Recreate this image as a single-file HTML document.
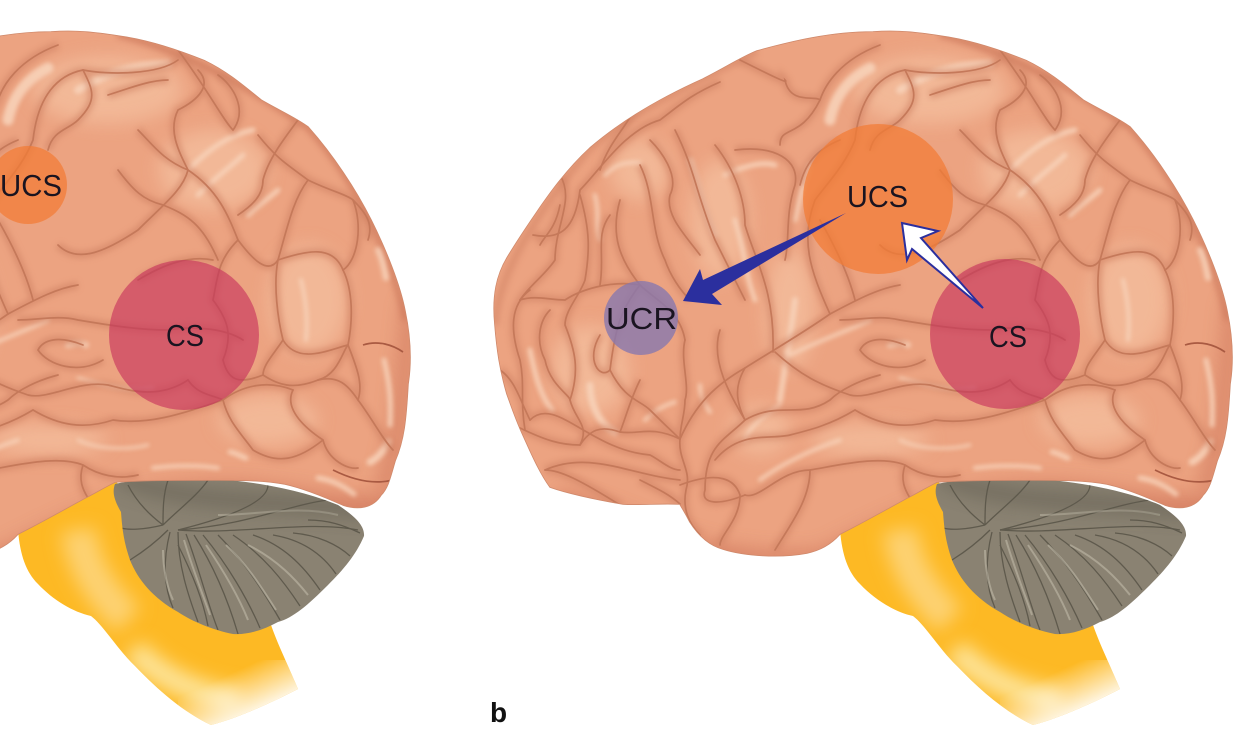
<!DOCTYPE html>
<html><head><meta charset="utf-8"><style>
html,body{margin:0;padding:0;background:#fff;width:1249px;height:739px;overflow:hidden}
svg{display:block}
text{font-family:"Liberation Sans",sans-serif;fill:#1a1420}
</style></head><body>
<svg width="1249" height="739" viewBox="0 0 1249 739" xmlns="http://www.w3.org/2000/svg">
<defs>
<filter id="b2" filterUnits="userSpaceOnUse" x="400" y="0" width="900" height="760"><feGaussianBlur stdDeviation="2"/></filter>
<filter id="b3" filterUnits="userSpaceOnUse" x="400" y="0" width="900" height="760"><feGaussianBlur stdDeviation="3"/></filter>
<filter id="b8" filterUnits="userSpaceOnUse" x="400" y="0" width="900" height="760"><feGaussianBlur stdDeviation="9"/></filter>
<linearGradient id="yf" gradientUnits="userSpaceOnUse" x1="1060" y1="670" x2="1085" y2="725"><stop offset="0" stop-color="#fff" stop-opacity="0"/><stop offset=".75" stop-color="#fff" stop-opacity=".9"/><stop offset="1" stop-color="#fff"/></linearGradient>
<clipPath id="cb"><path id="cbp" d="M495 325 C492 295 497 275 507 258 C516 243 526 228 537 212 C548 196 566 170 590 148 C625 118 665 96 703 79 C725 68 740 58 757 51 C790 42 830 32 873 32 C900 30 920 33 940 36 C970 40 1000 50 1027 61 C1050 72 1068 88 1083 100 C1100 110 1118 118 1130 127 C1155 155 1178 190 1193 220 C1208 250 1222 285 1227 311 C1233 340 1233 365 1230 384 C1228 420 1226 440 1217 461 C1212 478 1210 488 1203 495 C1195 508 1180 510 1165 505 C1145 496 1125 488 1107 484 C1085 480 1060 480 1040 480 C1000 480 965 480 937 482 C925 488 915 494 907 498 C885 510 860 524 840 534 C830 545 820 550 807 553 C780 558 745 556 723 549 C708 545 697 533 690 522 C685 512 682 508 680 504 C660 503 640 505 623 504 C600 500 570 494 550 487 C538 470 530 450 523 435 C516 420 511 405 507 394 C500 370 497 350 495 325 Z"/></clipPath>
<clipPath id="cc"><path id="ccp" d="M937 484 C1000 470 1100 480 1160 505 C1175 515 1187 525 1186 536 C1178 555 1165 570 1150 585 C1130 605 1115 618 1100 622 C1085 630 1070 635 1055 634 C1035 630 1015 622 1000 612 C975 598 960 580 952 560 C945 540 944 525 943 512 C936 500 934 492 937 484 Z"/></clipPath>
<clipPath id="cy"><path d="M937 480 L840 530 C842 555 848 572 860 584 C875 600 895 612 913 616 C925 625 940 650 957 666 C980 690 1005 712 1033 725 C1060 718 1095 702 1120 689 C1110 665 1100 645 1093 625 L1000 560 Z"/></clipPath>

<g id="sulci">
  <path d="M680 439 C695 405 715 385 745 368 C770 352 800 335 830 314 C860 298 880 288 900 285"/>
  <path d="M680 439 C678 460 692 470 686 490 C682 510 690 525 700 535"/>
  <path d="M680 439 C650 425 640 435 620 432 C600 425 590 430 580 445 C560 445 545 440 520 428"/>
  <path d="M520 300 C535 295 550 300 565 300 C580 290 610 280 640 285"/>
  <path d="M533 235 C560 240 575 230 580 190 C600 170 625 130 660 120 C680 105 690 95 720 82"/>
  <path d="M580 195 C590 230 590 250 585 280 C580 295 565 310 565 325 C575 350 580 370 570 400 C575 420 590 425 580 445"/>
  <path d="M620 200 C610 235 620 260 640 285 C655 300 680 310 685 340"/>
  <path d="M640 165 C655 195 650 230 665 260 C670 275 680 290 690 300"/>
  <path d="M675 130 C695 170 695 190 715 240 C725 260 735 280 745 300"/>
  <path d="M715 145 C735 170 745 200 745 225 C755 260 775 290 773 352"/>
  <path d="M735 150 C775 145 800 160 795 185 C785 215 790 240 785 260"/>
  <path d="M740 60 C770 75 790 85 785 80 C790 105 815 95 820 100 C800 140 780 125 780 145"/>
  <path d="M820 100 C825 85 840 60 880 45"/>
  <path d="M905 70 C880 75 860 95 855 140 C845 165 830 180 815 200 C800 240 810 270 830 314"/>
  <path d="M905 70 C930 75 980 75 1000 60"/>
  <path d="M905 70 C915 90 920 100 900 120 C890 130 875 130 870 150"/>
  <path d="M560 205 C555 230 545 235 540 245"/>
  <path d="M640 285 C620 310 615 330 610 370 C625 400 640 400 650 410 C660 420 665 425 680 439"/>
  <path d="M685 340 C680 360 690 385 685 400 C685 415 680 425 680 439"/>
  <path d="M530 290 C510 305 510 330 520 360 C525 385 520 400 525 430"/>
  <path d="M550 310 C540 320 535 340 545 360 C550 385 570 395 570 400"/>
  <path d="M530 420 C555 395 590 450 650 455 C660 460 670 470 680 470"/>
  <path d="M545 470 C590 450 630 475 680 480"/>
  <path d="M745 368 C735 385 735 400 745 420 C725 440 705 445 705 490 C700 505 720 505 745 495"/>
  <path d="M775 352 C800 375 820 385 850 395 C870 400 900 380 930 385 C950 390 980 400 1010 380"/>
  <path d="M745 420 C780 400 800 420 830 400 C840 390 860 380 880 375"/>
  <path d="M745 495 C760 500 780 470 810 470 C840 465 880 455 905 465 C920 475 940 480 960 475"/>
  <path d="M810 470 C810 500 790 525 775 550"/>
  <path d="M905 465 C900 480 905 490 910 498"/>
  <path d="M855 410 C880 425 905 430 935 420 C970 425 1000 415 1045 400 C1065 385 1090 380 1115 390"/>
  <path d="M840 320 C860 320 880 315 900 320 C930 325 960 330 990 330 C1020 325 1050 330 1065 340"/>
  <path d="M880 245 C900 265 930 250 960 230 C985 205 1005 190 1010 170 C1000 150 990 130 1000 110 C1020 100 1035 85 1020 70"/>
  <path d="M1010 170 C1040 190 1050 215 1060 240 C1075 260 1090 275 1100 260 C1110 225 1115 200 1130 180"/>
  <path d="M1060 240 C1040 260 1040 275 1035 300 C1050 320 1055 335 1045 360 C1050 380 1060 385 1085 375"/>
  <path d="M1100 260 C1095 285 1100 320 1105 340 C1120 365 1150 350 1170 345 C1175 320 1175 290 1165 270 C1155 245 1130 250 1100 260"/>
  <path d="M1165 270 C1180 260 1185 225 1175 200"/>
  <path d="M1130 180 C1150 190 1170 195 1175 200 C1190 215 1195 225 1190 240"/>
  <path d="M1105 340 C1095 355 1085 365 1085 375 C1100 385 1115 390 1140 380 C1160 375 1165 350 1170 345"/>
  <path d="M1170 345 C1180 370 1185 385 1180 400 C1170 385 1160 375 1140 380"/>
  <path d="M1180 400 C1195 420 1205 440 1215 450"/>
  <path d="M1115 390 C1105 410 1130 430 1145 440 C1150 460 1170 470 1180 468 M1145 440 C1120 460 1100 465 1075 450 C1060 430 1050 420 1045 400"/>
  <path d="M1000 50 C1030 90 1045 120 1055 130 C1070 110 1055 85 1040 75"/>
  <path d="M1080 135 C1100 160 1110 165 1130 180"/>
  <path d="M930 95 C960 85 975 80 990 80"/>
  <path d="M985 205 C1010 215 1025 225 1040 260"/>
  <path d="M640 480 C660 490 670 495 680 504"/>
  <path d="M680 485 C720 470 735 480 740 495 C740 520 720 535 720 545"/>
  <path d="M620 505 C580 480 560 470 545 470"/>
  <path d="M640 100 C625 130 610 140 600 170"/>
  <path d="M500 370 C515 380 520 400 530 420"/>
  <path d="M560 175 C575 200 555 225 555 260 C545 275 530 285 520 300"/>
  <path d="M610 215 C595 235 605 255 600 285"/>
  <path d="M700 255 C685 235 665 215 670 195 C680 175 660 150 650 140"/>
  <path d="M720 330 C710 360 730 395 745 420"/>
  <path d="M820 220 C840 255 850 280 855 300"/>
  <path d="M600 335 C585 360 600 380 610 370"/>
  <path d="M640 380 C630 400 625 420 620 432"/>
  <path d="M715 460 C740 430 770 440 790 435 C810 430 830 425 855 410"/>
  <path d="M960 280 C985 265 1010 255 1035 260"/>
  <path d="M905 345 C880 335 865 340 860 350 C870 365 900 375 925 360"/>
  <path d="M1010 380 C1020 395 1035 395 1045 400"/>
  <path d="M840 140 C815 150 805 165 800 185"/>
  <path d="M1120 120 C1105 140 1090 160 1085 180 C1085 195 1075 205 1060 215"/>
  <path d="M960 130 C975 145 985 160 1010 170"/>
  <path d="M940 170 C955 190 965 200 985 205"/>
</g>

<g id="brain">
  <g clip-path="url(#cy)">
    <rect x="820" y="470" width="320" height="270" fill="#fdb924"/>
    <path d="M900 530 C905 565 920 590 950 620" stroke="#fdd272" stroke-width="34" fill="none" filter="url(#b8)"/>
    <path d="M955 650 C985 680 1020 695 1060 700" stroke="#fde49a" stroke-width="24" fill="none" filter="url(#b8)"/>
    <rect x="1000" y="660" width="130" height="80" fill="url(#yf)"/>
  </g>
  <g clip-path="url(#cc)">
    <rect x="920" y="470" width="280" height="175" fill="#8a8272"/>
    <g fill="none" stroke="#5f5a4d" stroke-width="1.3">
      <path d="M1000 530 C1060 535 1130 520 1180 530"/><path d="M1000 530 C1070 525 1110 505 1150 500"/><path d="M1000 530 C1060 515 1090 500 1090 485"/>
      <path d="M985 525 C1000 510 1020 495 1030 480"/><path d="M985 525 C985 510 985 495 990 480"/><path d="M985 525 C965 510 955 495 950 485"/>
      <path d="M985 525 C965 530 950 530 943 528"/><path d="M990 530 C975 545 960 555 952 560"/><path d="M992 532 C985 560 985 585 995 608"/>
      <path d="M1000 532 C1000 565 1010 595 1020 622"/><path d="M1008 534 C1020 565 1030 605 1040 630"/><path d="M1016 535 C1035 565 1050 600 1060 634"/>
      <path d="M1025 535 C1050 565 1070 600 1082 628"/><path d="M1040 535 C1065 560 1085 590 1102 620"/><path d="M1055 535 C1085 555 1105 580 1122 606"/>
      <path d="M1075 535 C1105 545 1125 565 1142 590"/><path d="M1095 535 C1125 540 1145 555 1158 574"/><path d="M1115 533 C1140 535 1160 545 1172 556"/>
      <path d="M1000 545 C1015 575 1025 600 1030 626"/><path d="M1130 520 C1150 520 1165 525 1182 533"/>
    </g>
    <g fill="none" stroke="#c0baa8" stroke-width="2" opacity=".6">
      <path d="M1006 540 C1015 570 1025 595 1032 615"/><path d="M1028 545 C1045 570 1060 595 1070 620"/><path d="M1048 545 C1070 565 1085 590 1098 610"/>
      <path d="M1070 545 C1100 560 1118 580 1130 595"/><path d="M1040 515 C1080 515 1120 505 1160 515"/><path d="M985 550 C985 570 990 590 995 600"/>
    </g>
    <path d="M940 475 C1000 505 1100 500 1190 510" stroke="#5f5a4d" stroke-width="16" fill="none" filter="url(#b8)" opacity=".55"/>
  </g>
  <use href="#cbp" fill="#d08a6c" stroke="#d08a6c" stroke-width="1.5"/>
  <g clip-path="url(#cb)">
    <use href="#cbp" fill="#eca381"/>
    <path d="M560 490 C640 510 700 560 820 550 C900 510 950 480 1060 482 C1130 485 1170 505 1230 490 L1240 560 L540 570Z" fill="#d47e62" filter="url(#b8)" opacity=".85"/>
    <path d="M1234 300 C1225 380 1225 440 1205 490" stroke="#d37d60" stroke-width="16" fill="none" filter="url(#b8)" opacity=".8"/>
    <path d="M940 34 C1020 55 1090 100 1130 127 C1180 180 1215 260 1228 320" stroke="#cf7c5e" stroke-width="8" fill="none" filter="url(#b3)" opacity=".7"/>
    <path d="M495 325 C497 275 537 212 590 148 C625 118 665 96 757 51" stroke="#d98c6d" stroke-width="8" fill="none" filter="url(#b3)" opacity=".7"/>
    <g fill="#f4bf9f" filter="url(#b8)" opacity=".75">
      <ellipse cx="930" cy="90" rx="75" ry="34"/><ellipse cx="1035" cy="170" rx="55" ry="40"/><ellipse cx="1130" cy="300" rx="40" ry="55"/>
      <ellipse cx="1090" cy="420" rx="50" ry="25"/><ellipse cx="720" cy="220" rx="30" ry="60"/><ellipse cx="590" cy="370" rx="40" ry="45"/><ellipse cx="790" cy="310" rx="25" ry="60"/>
      <ellipse cx="640" cy="170" rx="30" ry="30"/><ellipse cx="870" cy="440" rx="60" ry="15"/><ellipse cx="760" cy="430" rx="30" ry="25"/>
    </g>
    <g fill="none" stroke="#f8d4bb" stroke-linecap="round" filter="url(#b2)" stroke-width="5" opacity=".85">
      <path d="M830 120 C835 95 850 78 870 68" stroke-width="11"/>
      <path d="M900 90 C925 75 950 65 990 64" stroke-width="8"/>
      <path d="M1010 170 C1030 150 1050 135 1075 130"/>
      <path d="M1020 195 C1040 175 1055 165 1065 155"/>
      <path d="M1070 215 C1080 205 1095 195 1100 190"/>
      <path d="M1123 280 C1128 300 1130 320 1128 340" stroke-width="4"/>
      <path d="M1200 250 C1204 258 1206 268 1208 278" stroke-width="6"/>
      <path d="M1206 360 C1212 385 1213 400 1212 425" stroke-width="5"/>
      <path d="M1192 462 C1200 458 1206 450 1210 442" stroke-width="7"/>
      <path d="M975 468 C1000 465 1020 465 1040 468" stroke-width="4"/>
      <path d="M1140 478 C1155 480 1165 486 1176 494" stroke-width="5"/>
      <path d="M1052 452 C1056 452 1062 456 1068 458" stroke-width="5"/>
      <path d="M900 378 C925 385 950 392 975 388" stroke-width="3"/>
      <path d="M890 345 C895 343 905 343 908 345" stroke-width="6"/>
      <path d="M690 160 C700 190 705 215 715 235" stroke-width="6"/>
      <path d="M725 175 C735 170 760 160 775 165" stroke-width="5"/>
      <path d="M735 220 C745 250 745 275 755 300" stroke-width="5"/>
      <path d="M795 300 C790 340 785 365 780 400" stroke-width="6"/>
      <path d="M810 165 C800 190 800 200 795 220" stroke-width="5"/>
      <path d="M590 385 C590 405 600 425 615 432" stroke-width="7"/>
      <path d="M530 350 C535 375 540 395 552 410" stroke-width="5"/>
      <path d="M640 163 C620 160 610 170 605 175" stroke-width="4"/>
      <path d="M595 195 C600 215 595 225 600 240" stroke-width="4"/>
      <path d="M645 420 C655 410 665 405 675 402" stroke-width="4"/>
      <path d="M700 385 C700 395 705 405 710 412" stroke-width="4"/>
      <path d="M745 440 C750 425 765 415 780 405" stroke-width="4"/>
      <path d="M790 355 C820 340 850 330 870 320" stroke-width="4"/>
      <path d="M760 480 C780 465 810 450 840 440" stroke-width="4"/>
      <path d="M900 440 C920 450 950 450 970 445" stroke-width="3"/>
    </g>
    <use href="#sulci" fill="none" stroke="#cf8163" stroke-width="8" filter="url(#b3)" opacity=".55"/>
    <use href="#sulci" fill="none" stroke="#c5795a" stroke-width="1.7" stroke-linecap="round"/>
    <path d="M1185 345 C1200 340 1215 345 1225 352 M1155 470 C1175 480 1195 485 1215 480" fill="none" stroke="#a95a42" stroke-width="1.7"/>
  </g>
</g>
</defs>

<use href="#brain"/>
<use href="#brain" transform="translate(-822,0)"/>

<circle cx="28" cy="185" r="39" fill="#f27c34" opacity=".72"/>
<circle cx="184" cy="335" r="75" fill="#c6305c" opacity=".62"/>
<text x="0" y="196" font-size="31" textLength="62" lengthAdjust="spacingAndGlyphs">UCS</text>
<text x="166" y="346" font-size="31" textLength="38" lengthAdjust="spacingAndGlyphs">CS</text>

<circle cx="878" cy="199" r="75" fill="#f27c34" opacity=".72"/>
<circle cx="1005" cy="334" r="75" fill="#c6305c" opacity=".62"/>
<circle cx="641" cy="318" r="37" fill="#8878ae" opacity=".8"/>
<text x="847" y="207" font-size="31" textLength="61" lengthAdjust="spacingAndGlyphs">UCS</text>
<text x="989" y="347" font-size="31" textLength="38" lengthAdjust="spacingAndGlyphs">CS</text>
<text x="606" y="329" font-size="31" textLength="71" lengthAdjust="spacingAndGlyphs">UCR</text>

<path d="M683 301 L700 269 L703 280 L846 213 L712 294 L722 305 Z" fill="#2b2f9e"/>
<path d="M902 223 L938 231 L921 238 L983 308 L912 249 L907 260 Z" fill="#fff" stroke="#2b2f9e" stroke-width="2" stroke-linejoin="miter"/>

<text x="490" y="722" font-size="28" font-weight="700" style="fill:#111">b</text>
</svg>
</body></html>
